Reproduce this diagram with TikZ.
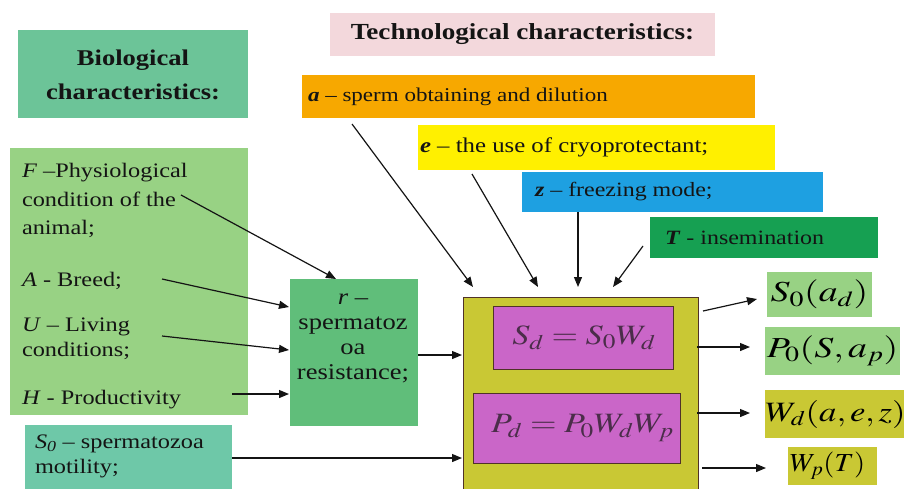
\documentclass[tikz,border=0pt]{standalone}
\usepackage{mathptmx}
\usepackage[no-math]{fontspec}
\setmainfont{Liberation Serif}[FakeStretch=1.18]
\usetikzlibrary{arrows.meta}
\definecolor{cBioT}{RGB}{108,196,152}
\definecolor{cPink}{RGB}{243,216,220}
\definecolor{cOrange}{RGB}{247,168,0}
\definecolor{cYellow}{RGB}{255,240,0}
\definecolor{cBlue}{RGB}{30,160,225}
\definecolor{cDGreen}{RGB}{22,160,82}
\definecolor{cLGreen}{RGB}{152,210,132}
\definecolor{cR}{RGB}{96,190,122}
\definecolor{cS}{RGB}{110,200,168}
\definecolor{cOlive}{RGB}{201,200,52}
\definecolor{cMag}{RGB}{202,102,200}
\definecolor{cBorder}{RGB}{80,50,40}
\definecolor{cTxt}{RGB}{20,20,20}
\newcommand{\wm}[2][1.22]{\scalebox{#1}[1]{$#2$}}
\tikzset{
  box/.style={inner sep=0pt, outer sep=0pt, anchor=north west},
  txt/.style={inner sep=0pt, outer sep=2pt, anchor=base west, text=cTxt, font=\fontsize{20.6}{24}\selectfont},
  arr/.style={-{Triangle[length=10pt,width=8pt]}, line width=1.2pt, draw=cTxt},
  mathbox/.style={inner sep=0pt, outer sep=0pt, anchor=north west, font=\fontsize{28}{30}\selectfont},
}
\begin{document}
\begin{tikzpicture}[x=1pt,y=-1pt]
\useasboundingbox (0,0) rectangle (904,488);
% titles
\node[box, fill=cBioT, minimum width=230pt, minimum height=88pt] (biot) at (18,30) {};
\node[inner sep=0pt, align=center, text=cTxt, font=\bfseries\fontsize{22.5}{34}\selectfont] (biottxt) at (133,75) {Biological\\characteristics:};
\node[box, fill=cPink, minimum width=385pt, minimum height=43pt,
      font=\bfseries\fontsize{23}{26}\selectfont, text=cTxt] (techt) at (330,13) {Technological characteristics:};
% tech boxes
\node[box, fill=cOrange, minimum width=453pt, minimum height=43pt] (abox) at (302,75) {};
\node[txt, anchor=west, font=\fontsize{19.5}{22}\selectfont] (atxt) at (306,96.5) {\textbf{\textit{a}} -- sperm obtaining and dilution};
\node[box, fill=cYellow, minimum width=357pt, minimum height=45pt] (ebox) at (418,125) {};
\node[txt, anchor=west, font=\fontsize{21}{24}\selectfont] (etxt) at (418,147.5) {\textbf{\textit{e}} -- the use of cryoprotectant;};
\node[box, fill=cBlue, minimum width=301pt, minimum height=40pt] (zbox) at (522,172) {};
\node[txt, anchor=west, font=\fontsize{20.3}{24}\selectfont] (ztxt) at (533,192) {\textbf{\textit{z}} -- freezing mode;};
\node[box, fill=cDGreen, minimum width=228pt, minimum height=41pt] (tbox) at (650,217) {};
\node[txt, anchor=west, font=\fontsize{20.3}{24}\selectfont] (ttxt) at (663,237.5) {\textbf{\textit{T}} - insemination};
% biological
\node[box, fill=cLGreen, minimum width=238pt, minimum height=267pt] (bio) at (10,148) {};
\node[txt] (f1) at (20,177) {\textit{F} --Physiological};
\node[txt] (f2) at (20,206) {condition of the};
\node[txt] (f3) at (20,234) {animal;};
\node[txt] (atx) at (20,286) {\textit{A} - Breed;};
\node[txt] (u1) at (20,331) {\textit{U} -- Living};
\node[txt] (u2) at (20,356) {conditions;};
\node[txt] (htx) at (20,404) {\textit{H} - Productivity};
% r box
\node[box, fill=cR, minimum width=128pt, minimum height=147pt] (rbox) at (290,279) {};
\node[inner sep=0pt, align=center, text=cTxt, font=\fontsize{22.5}{25}\selectfont] (rtxt) at (353,338)
  {\textit{r} --\\spermatoz\\oa\\resistance;};
% S0 box
\node[box, fill=cS, minimum width=207pt, minimum height=70pt] (sbox) at (25,425) {};
\node[txt] (s1) at (33,448) {\textit{S\textsubscript{0}} -- spermatozoa};
\node[txt] (s2) at (33,473) {motility;};
% central box
\node[box, fill=cOlive, draw=cBorder, line width=1pt, minimum width=235pt, minimum height=200pt] (big) at (463,297) {};
\node[mathbox, fill=cMag, draw=cBorder, line width=1pt, minimum width=180pt, minimum height=63pt] (sd) at (493,306) {};
\node[inner sep=0pt, font=\fontsize{28}{30}\selectfont, text=cTxt!70!cMag] (sdt) at ([xshift=1pt]sd.center) {\wm{S_{d}=S_{0}W_{d}}};
\node[mathbox, fill=cMag, draw=cBorder, line width=1pt, minimum width=207pt, minimum height=70pt] (pd) at (473,393) {};
\node[inner sep=0pt, font=\fontsize{28}{30}\selectfont, text=cTxt!70!cMag] (pdt) at ([xshift=6pt]pd.center) {\wm{P_{d}=P_{0}W_{d}W_{p}}};
% outputs
\node[mathbox, fill=cLGreen, minimum width=105pt, minimum height=45pt, font=\fontsize{29}{30}\selectfont] (o1) at (767,272) {\wm[1.3]{S_{0}(a_{d})}};
\node[mathbox, fill=cLGreen, minimum width=135pt, minimum height=48pt, font=\fontsize{29}{30}\selectfont] (o2) at (765,327) {\wm[1.3]{P_{0}(S,a_{p})}};
\node[mathbox, fill=cOlive, minimum width=139pt, minimum height=48pt] (o3) at (765,390) {};
\node[inner sep=0pt, font=\fontsize{28}{30}\selectfont] (o3t) at ([xshift=1pt]o3.center) {\wm[1.24]{W_{d}(a,e,z)}};
\node[mathbox, fill=cOlive, minimum width=89pt, minimum height=38pt] (o4) at (788,447) {};
\node[inner sep=0pt, font=\fontsize{26}{28}\selectfont] (o4t) at ([xshift=-5pt]o4.center) {\wm[1.1]{W_{p}(T)}};
% coordinates
\coordinate (aS) at (352,124);
\coordinate (aE) at (473,287);
\coordinate (eS) at (472,174);
\coordinate (eE) at (538,287);
\coordinate (zS) at (578,212);
\coordinate (zE) at (578,287);
\coordinate (tS) at (643,246);
\coordinate (tE) at (613,287);
\coordinate (fS) at (181,195);
\coordinate (fE) at (336,279);
\coordinate (aaS) at (162,279);
\coordinate (aaE) at (289,307);
\coordinate (uS) at (162,336);
\coordinate (uE) at (289,350);
\coordinate (hS) at (232,394);
\coordinate (hE) at (289,394);
\coordinate (rS) at (418,355);
\coordinate (rE) at (462,355);
\coordinate (sS) at (232,458);
\coordinate (sE) at (462,458);
\coordinate (o1S) at (703,311);
\coordinate (o1E) at (757,299);
\coordinate (o2S) at (697,347);
\coordinate (o2E) at (750,347);
\coordinate (o3S) at (697,413);
\coordinate (o3E) at (750,413);
\coordinate (o4S) at (702,468);
\coordinate (o4E) at (766,468);
\draw[arr] (aS) -- (aE);
\draw[arr] (eS) -- (eE);
\draw[arr] (zS) -- (zE);
\draw[arr] (tS) -- (tE);
\draw[arr] (fS) -- (fE);
\draw[arr] (aaS) -- (aaE);
\draw[arr] (uS) -- (uE);
\draw[arr] (hS) -- (hE);
\draw[arr] (rS) -- (rE);
\draw[arr] (sS) -- (sE);
\draw[arr] (o1S) -- (o1E);
\draw[arr] (o2S) -- (o2E);
\draw[arr] (o3S) -- (o3E);
\draw[arr] (o4S) -- (o4E);
\end{tikzpicture}
\end{document}
